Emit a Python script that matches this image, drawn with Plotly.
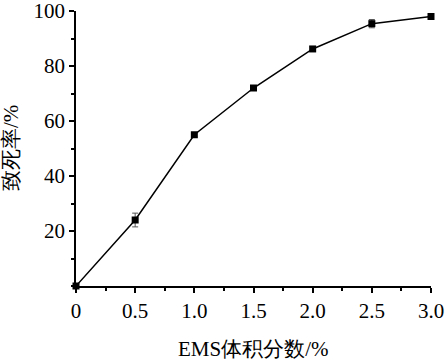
import plotly.graph_objects as go

ems = [0, 0.5, 1.0, 1.5, 2.0, 2.5, 3.0]
lethality = [0, 24, 55, 72, 86.2, 95.4, 98]
err = [0.3, 2.5, 0.8, 0.8, 0.8, 1.5, 0.6]
x_ticks = [0, 0.5, 1.0, 1.5, 2.0, 2.5, 3.0]
x_labels = ["0", "0.5", "1.0", "1.5", "2.0", "2.5", "3.0"]
y_ticks = [20, 40, 60, 80, 100]
x_title = "EMS体积分数/%"
y_title = "致死率/%"

font = "Liberation Serif"
fs = 21

fig = go.Figure(go.Scatter(
    x=ems, y=lethality, mode="lines+markers",
    line=dict(color="black", width=1.5),
    marker=dict(symbol="square", size=7, color="black"),
    error_y=dict(type="data", array=err, color="#555555", thickness=1, width=3),
    cliponaxis=False,
))

fig.update_layout(
    width=445, height=364,
    margin=dict(l=76, r=14, t=11, b=78),
    plot_bgcolor="white", paper_bgcolor="white",
    showlegend=False,
    font=dict(family=font, size=fs, color="black"),
    xaxis=dict(
        range=[0, 3], tickvals=x_ticks, ticktext=x_labels,
        automargin=False, ticklabeloverflow="allow",
        showline=True, linecolor="black", linewidth=1.5,
        ticks="outside", ticklen=5, tickwidth=1.5, tickcolor="black",
        minor=dict(dtick=0.25, tick0=0, ticks="outside", ticklen=3, tickwidth=1.5, tickcolor="black"),
        showgrid=False, zeroline=False,
        tickfont=dict(family=font, size=fs),
    ),
    yaxis=dict(
        range=[0, 100], tickvals=y_ticks,
        automargin=False, ticklabeloverflow="allow",
        showline=True, linecolor="black", linewidth=1.5,
        ticks="outside", ticklen=5, tickwidth=1.5, tickcolor="black",
        minor=dict(dtick=10, tick0=0, ticks="outside", ticklen=3, tickwidth=1.5, tickcolor="black"),
        showgrid=False, zeroline=False,
        tickfont=dict(family=font, size=fs),
    ),
    annotations=[
        dict(text=x_title, xref="paper", yref="paper", x=0.5, y=-0.229,
             xanchor="center", yanchor="middle", showarrow=False,
             font=dict(family=font, size=fs)),
        dict(text=y_title, xref="paper", yref="paper", x=-0.183, y=0.502,
             xanchor="center", yanchor="middle", showarrow=False, textangle=-90,
             font=dict(family=font, size=fs)),
    ],
)

fig.write_html("out.html", config={"displayModeBar": False},
               post_script="document.body.style.margin='0';")
